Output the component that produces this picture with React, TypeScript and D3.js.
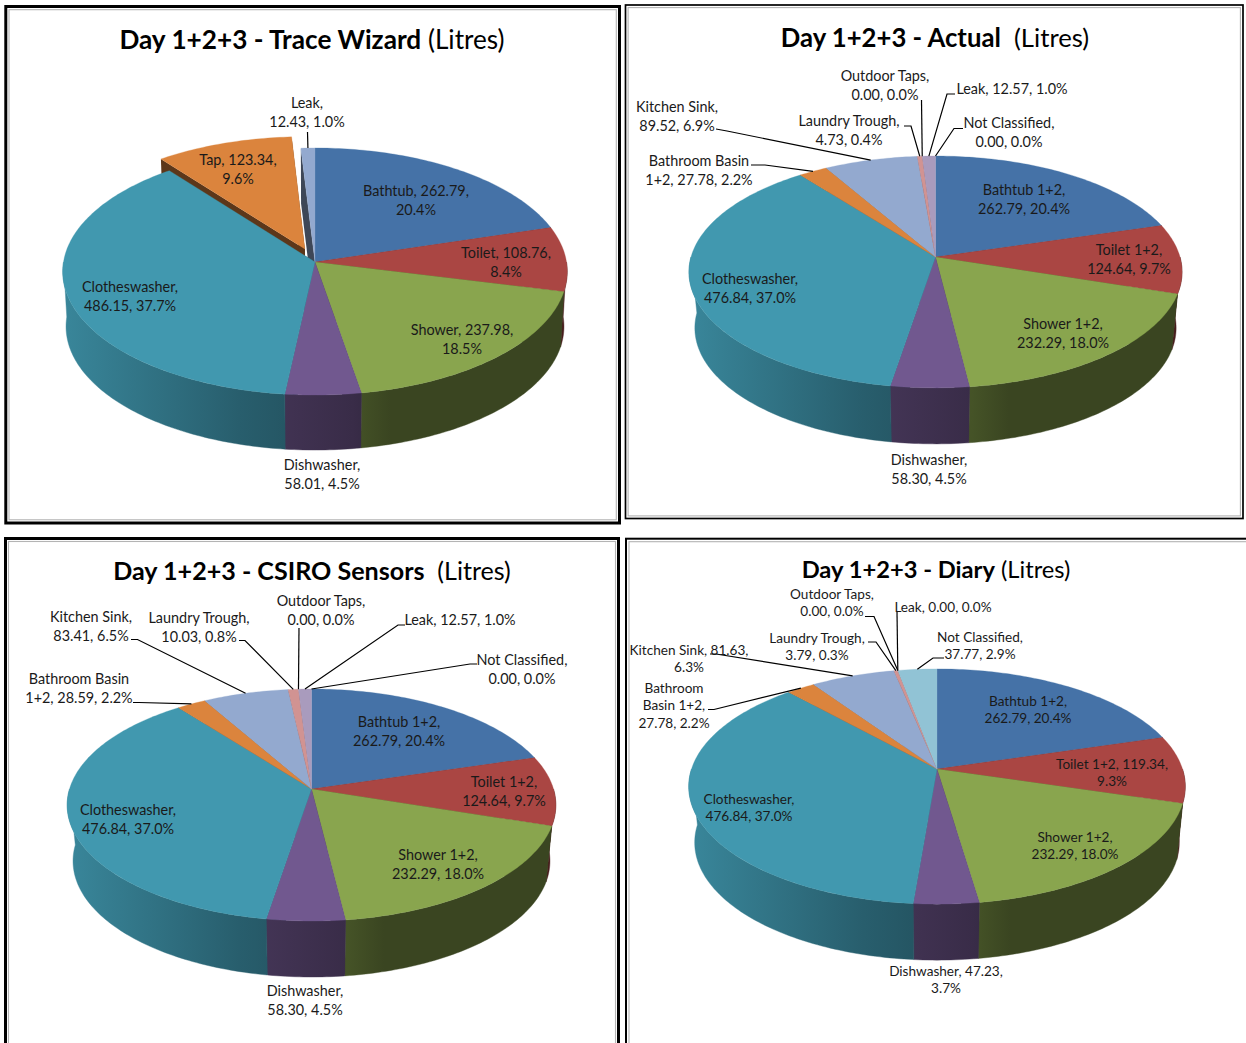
import { useRef, useEffect } from 'react';
import * as d3 from 'd3';

const traceNames = ['Bathtub', 'Toilet', 'Shower', 'Dishwasher', 'Clotheswasher', 'Tap', 'Leak'];
const traceValues = [262.79, 108.76, 237.98, 58.01, 486.15, 123.34, 12.43];

const fullNames = [
  'Bathtub 1+2', 'Toilet 1+2', 'Shower 1+2', 'Dishwasher', 'Clotheswasher', 'Bathroom Basin 1+2',
  'Kitchen Sink', 'Laundry Trough', 'Outdoor Taps', 'Leak', 'Not Classified',
];
const actualValues = [262.79, 124.64, 232.29, 58.3, 476.84, 27.78, 89.52, 4.73, 0, 12.57, 0];
const csiroValues = [262.79, 124.64, 232.29, 58.3, 476.84, 28.59, 83.41, 10.03, 0, 12.57, 0];
const diaryValues = [262.79, 119.34, 232.29, 47.23, 476.84, 27.78, 81.63, 3.79, 0, 0, 37.77];

// Excel 2007 default series colours, in slice order
const sliceColors = [
  '#4572A7', '#AA4643', '#89A54E', '#71588F', '#4198AF', '#DB843D',
  '#93A9CF', '#D19392', '#B9CD96', '#A99BBD', '#91C3D5',
];

// wall brightness across the pie, left to right (-1..1)
const wallShade = d3.scaleLinear().domain([-1, -0.3, 0.15, 0.3, 1]).range([0.88, 0.62, 0.5, 0.42, 0.42]);

type LabelPos = { x: number; y: number; lines: number[]; elbow?: number[][] };

type Panel = {
  id: string;
  bold: string;
  light: string;
  frame: number[];
  frameW: number;
  inset: number;
  titleX: number;
  titleY: number;
  titleSize: number;
  names: string[];
  values: number[];
  cx: number;
  cy: number;
  a: number;
  b: number;
  k: number;
  depth: number;
  shrink: number;
  explode?: Record<number, number>;
  fontSize: number;
  lineH: number;
  labels: LabelPos[];
};

const panels: Panel[] = [
  {
    id: 'trace', bold: 'Day 1+2+3 - Trace Wizard', light: ' (Litres)',
    frame: [5.8, 6.5, 613.7, 516.5], frameW: 3, inset: 3.2,
    titleX: 312, titleY: 49, titleSize: 26.2,
    names: traceNames, values: traceValues,
    cx: 315, cy: 262, a: 251.5, b: 122.8, k: 0.077, depth: 55, shrink: 0.987,
    explode: { 5: 0.115 }, fontSize: 14.4, lineH: 19,
    labels: [
      { x: 416, y: 191, lines: [2, 1] },
      { x: 506, y: 253, lines: [2, 1] },
      { x: 462, y: 330, lines: [2, 1] },
      { x: 322, y: 465, lines: [1, 2] },
      { x: 130, y: 287, lines: [1, 2] },
      { x: 238, y: 160, lines: [2, 1] },
      { x: 307, y: 103, lines: [1, 2], elbow: [[307.5, 132]] },
    ],
  },
  {
    id: 'actual', bold: 'Day 1+2+3 - Actual', light: '  (Litres)',
    frame: [625.5, 5, 617.5, 513.5], frameW: 1.7, inset: 2.6,
    titleX: 935, titleY: 47, titleSize: 25.7,
    names: fullNames, values: actualValues,
    cx: 935.5, cy: 257, a: 244.5, b: 114, k: 0.129, depth: 56, shrink: 0.976,
    fontSize: 14.4, lineH: 18.5,
    labels: [
      { x: 1024, y: 190, lines: [2, 2] },
      { x: 1129, y: 250, lines: [2, 2] },
      { x: 1063, y: 324, lines: [2, 2] },
      { x: 929, y: 460, lines: [1, 2] },
      { x: 750, y: 279, lines: [1, 2] },
      { x: 699, y: 161, lines: [2, 3], elbow: [[751, 165], [765, 165]] },
      { x: 677, y: 107, lines: [2, 2], elbow: [[716, 129], [727, 131]] },
      { x: 849, y: 121, lines: [2, 2], elbow: [[904, 126], [911, 126]] },
      { x: 885, y: 76, lines: [2, 2], elbow: [[921.5, 100]] },
      { x: 1012, y: 89, lines: [3], elbow: [[955, 94], [947, 94]] },
      { x: 1009, y: 123, lines: [2, 2], elbow: [[963, 128.5], [954, 128.5]] },
    ],
  },
  {
    id: 'csiro', bold: 'Day 1+2+3 - CSIRO Sensors', light: '  (Litres)',
    frame: [5.5, 538.5, 613, 600], frameW: 3, inset: 3,
    titleX: 312, titleY: 580, titleSize: 25.1,
    names: fullNames, values: csiroValues,
    cx: 311.5, cy: 789, a: 242, b: 113.8, k: 0.138, depth: 56, shrink: 0.976,
    fontSize: 14.4, lineH: 18.5,
    labels: [
      { x: 399, y: 722, lines: [2, 2] },
      { x: 504, y: 782, lines: [2, 2] },
      { x: 438, y: 855, lines: [2, 2] },
      { x: 305, y: 991, lines: [1, 2] },
      { x: 128, y: 810, lines: [1, 2] },
      { x: 79, y: 679, lines: [2, 3], elbow: [[133, 702.5], [139, 702.5]] },
      { x: 91, y: 617, lines: [2, 2], elbow: [[131, 639.5], [137.5, 639.5]] },
      { x: 199, y: 618, lines: [2, 2], elbow: [[239, 640.5], [245, 640.5]] },
      { x: 321, y: 601, lines: [2, 2], elbow: [[299, 628]] },
      { x: 460, y: 620, lines: [3], elbow: [[405, 625], [398, 625]] },
      { x: 522, y: 660, lines: [2, 2], elbow: [[477, 664], [470, 664]] },
    ],
  },
  {
    id: 'diary', bold: 'Day 1+2+3 - Diary', light: ' (Litres)',
    frame: [626, 538.7, 700, 600], frameW: 2, inset: 3,
    titleX: 936, titleY: 578, titleSize: 23.7,
    names: fullNames, values: diaryValues,
    cx: 937, cy: 769, a: 245.5, b: 115, k: 0.149, depth: 56, shrink: 0.976,
    fontSize: 13.6, lineH: 17.5,
    labels: [
      { x: 1028, y: 701, lines: [2, 2] },
      { x: 1112, y: 764, lines: [3, 1] },
      { x: 1075, y: 837, lines: [2, 2] },
      { x: 946, y: 971, lines: [2, 1] },
      { x: 749, y: 799, lines: [1, 2] },
      { x: 674, y: 688, lines: [1, 2, 2], elbow: [[708, 709.5], [714, 709.5]] },
      { x: 689, y: 650, lines: [3, 1], elbow: [[710, 654], [716, 654]] },
      { x: 817, y: 638, lines: [2, 2], elbow: [[868, 642], [876, 642]] },
      { x: 832, y: 594, lines: [2, 2], elbow: [[865, 616.5], [874, 616.5]] },
      { x: 943, y: 607, lines: [3], elbow: [[897, 612]] },
      { x: 980, y: 637, lines: [2, 2], elbow: [[944, 658], [933, 658]] },
    ],
  },
];

const FONT = 'Lato, "Open Sans", sans-serif';
const line = d3.line<[number, number]>();

const darken = (c: string, f: number) => {
  const r = d3.rgb(c);
  return d3.rgb(r.r * f, r.g * f, r.b * f).formatHex();
};

const arcAngles = (t0: number, t1: number) => {
  const n = Math.max(1, Math.ceil((t1 - t0) / (Math.PI / 180)));
  return d3.range(n + 1).map(i => t0 + ((t1 - t0) * i) / n);
};

const drawPanel = (svg: d3.Selection<SVGSVGElement, unknown, null, undefined>, p: Panel) => {
  const g = svg.append('g').attr('id', p.id);
  const [fx, fy, fw, fh] = p.frame;

  // Frame
  g.append('rect').attr('x', fx).attr('y', fy).attr('width', fw).attr('height', fh)
    .attr('fill', '#fff').attr('stroke', '#000').attr('stroke-width', p.frameW);
  g.append('rect').attr('x', fx + p.inset).attr('y', fy + p.inset)
    .attr('width', fw - 2 * p.inset).attr('height', fh - 2 * p.inset)
    .attr('fill', 'none').attr('stroke', '#b4b4b4').attr('stroke-width', 1.1);

  // Title
  const title = g.append('text').attr('x', p.titleX).attr('y', p.titleY).attr('text-anchor', 'middle')
    .attr('font-family', FONT).attr('font-size', p.titleSize).attr('fill', '#000').style('white-space', 'pre');
  title.append('tspan').attr('font-weight', 700).text(p.bold);
  title.append('tspan').text(p.light);

  const total = d3.sum(p.values);
  const slices = d3.pie<number>().sort(null).value(d => d).startAngle(0).endAngle(2 * Math.PI)(p.values);

  // projected pie: t is clockwise from 12 o'clock, v grows toward the viewer
  const project = (t: number, r: number, i: number, low: boolean): [number, number] => {
    const e = p.explode?.[i] ?? 0;
    const mid = (slices[i].startAngle + slices[i].endAngle) / 2;
    const u = r * Math.sin(t) + e * Math.sin(mid);
    const v = -r * Math.cos(t) - e * Math.cos(mid);
    const s = 1 / (1 - p.k * v);
    const x = p.a * u * s;
    const y = p.b * v * s;
    return low ? [p.cx + x * p.shrink, p.cy + y + p.depth] : [p.cx + x, p.cy + y];
  };

  const defs = g.append('defs');
  sliceColors.forEach((c, i) => {
    const grad = defs.append('linearGradient').attr('id', `${p.id}-wall-${i}`)
      .attr('gradientUnits', 'userSpaceOnUse')
      .attr('x1', p.cx - p.a).attr('x2', p.cx + p.a).attr('y1', 0).attr('y2', 0);
    wallShade.domain().forEach(d => {
      grad.append('stop').attr('offset', (d + 1) / 2).attr('stop-color', darken(c, wallShade(d)));
    });
  });

  // Radial faces (only show where a slice is pulled out)
  slices.forEach((s, i) => {
    if (s.value === 0) return;
    [s.startAngle, s.endAngle].forEach(t => {
      const pts = [project(t, 0, i, false), project(t, 1, i, false), project(t, 1, i, true), project(t, 0, i, true)];
      g.append('path').attr('d', line(pts) + 'Z').attr('fill', darken(sliceColors[i], 0.42));
    });
  });

  // Outer walls
  slices.forEach((s, i) => {
    const t0 = Math.max(s.startAngle, Math.PI / 2);
    const t1 = Math.min(s.endAngle, (3 * Math.PI) / 2);
    if (s.value === 0 || t1 <= t0) return;
    const ts = arcAngles(t0, t1);
    const pts = [...ts.map(t => project(t, 1, i, false)), ...ts.slice().reverse().map(t => project(t, 1, i, true))];
    g.append('path').attr('d', line(pts) + 'Z').attr('fill', `url(#${p.id}-wall-${i})`)
      .attr('stroke', `url(#${p.id}-wall-${i})`).attr('stroke-width', 0.4);
  });

  // Top faces
  slices.forEach((s, i) => {
    if (s.value === 0) return;
    const pts = [project(0, 0, i, false), ...arcAngles(s.startAngle, s.endAngle).map(t => project(t, 1, i, false))];
    g.append('path').attr('d', line(pts) + 'Z').attr('fill', sliceColors[i])
      .attr('stroke', sliceColors[i]).attr('stroke-width', 0.3);
  });

  // Leader lines
  p.labels.forEach((l, i) => {
    if (!l.elbow) return;
    const mid = (slices[i].startAngle + slices[i].endAngle) / 2;
    const pts = [...l.elbow, project(mid, 1, i, false)] as [number, number][];
    g.append('path').attr('d', line(pts)).attr('fill', 'none').attr('stroke', '#000').attr('stroke-width', 1.2);
  });

  // Data labels
  p.labels.forEach((l, i) => {
    const pct = d3.format('.1f')((p.values[i] / total) * 100);
    const words = `${p.names[i]}, ${p.values[i].toFixed(2)}, ${pct}%`.split(' ');
    let at = 0;
    l.lines.forEach((n, j) => {
      g.append('text').attr('x', l.x).attr('y', l.y + j * p.lineH).attr('dy', '0.35em')
        .attr('text-anchor', 'middle').attr('font-family', FONT).attr('font-size', p.fontSize)
        .attr('fill', '#1a1a1a').text(words.slice(at, at + n).join(' '));
      at += n;
    });
  });
};

export default function App() {
  const svgRef = useRef<SVGSVGElement>(null);

  useEffect(() => {
    const svg = d3.select(svgRef.current as SVGSVGElement);
    svg.selectAll('*').remove();
    panels.forEach(p => drawPanel(svg, p));
  }, []);

  return (
    <svg
      ref={svgRef}
      width={1246}
      height={1043}
      style={{ position: 'absolute', left: 0, top: 0, display: 'block', background: '#fff' }}
    />
  );
}
